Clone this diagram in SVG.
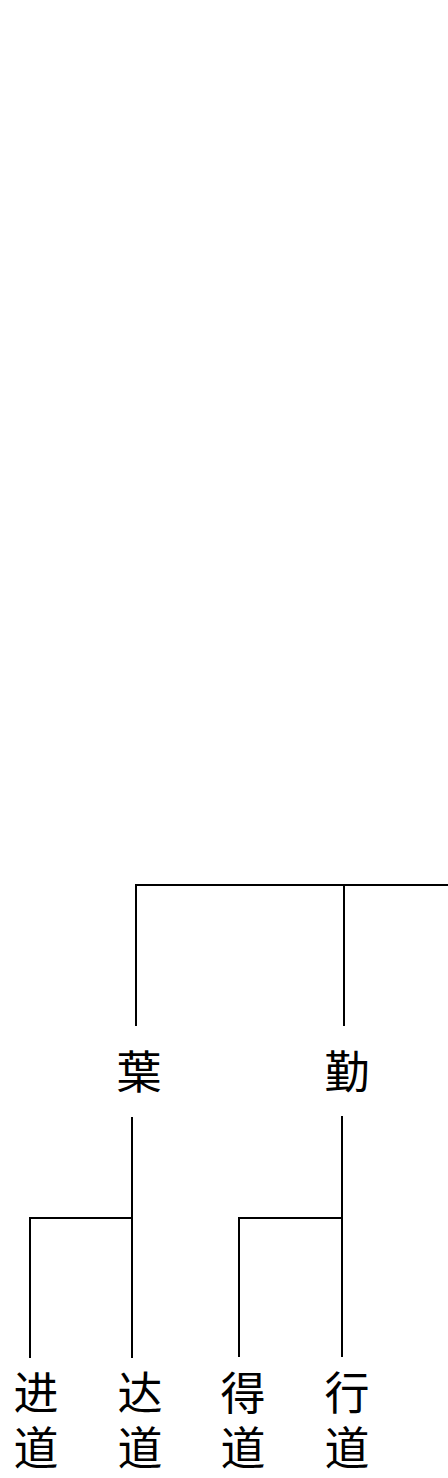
<svg xmlns="http://www.w3.org/2000/svg" width="448" height="1478" viewBox="0 0 448 1478">
<style>
.c{fill:none;stroke:#000;stroke-width:2}
.t{font-family:"Liberation Serif","Noto Sans CJK SC",serif;font-size:45px;fill:#000;text-anchor:middle}
</style>
<rect width="448" height="1478" fill="#fff"/>
<g id="connectors">
<path class="c" d="M136 1026V885H448M344 885V1026"/>
<path class="c" d="M132 1117V1358M132 1218H30V1358"/>
<path class="c" d="M342 1116V1357M342 1218H239V1357"/>
</g>
<g id="n-ye"><text class="t" x="139" y="1089">葉</text></g>
<g id="n-qin"><text class="t" x="347" y="1089">勤</text></g>
<g id="n-jindao"><text class="t" x="36" y="1410">进</text><text class="t" x="36" y="1465">道</text></g>
<g id="n-dadao"><text class="t" x="140" y="1410">达</text><text class="t" x="140" y="1465">道</text></g>
<g id="n-dedao"><text class="t" x="243" y="1410">得</text><text class="t" x="243" y="1465">道</text></g>
<g id="n-xingdao"><text class="t" x="347" y="1410">行</text><text class="t" x="347" y="1465">道</text></g>
</svg>
